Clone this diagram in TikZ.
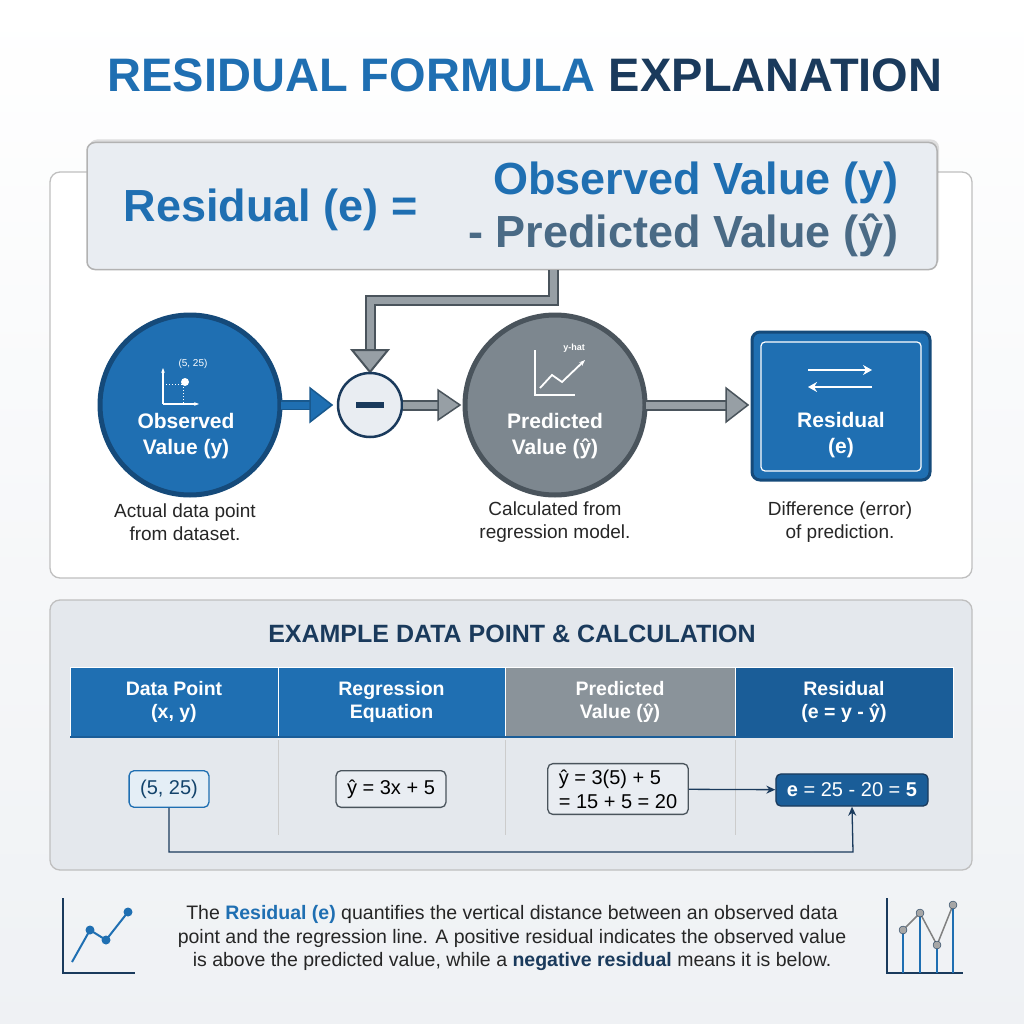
\documentclass[tikz,border=0pt]{standalone}
\usepackage{fontspec}
\setmainfont{Liberation Sans}
\usetikzlibrary{arrows.meta,shadows}
\definecolor{blu}{HTML}{1F6FB2}
\definecolor{navy}{HTML}{1A3A5C}
\definecolor{dblu}{HTML}{1A5D98}
\definecolor{gry}{HTML}{7D878F}
\definecolor{dgry}{HTML}{4A545C}
\definecolor{panel}{HTML}{E4E8ED}
\definecolor{fbox}{HTML}{E9EDF2}
\definecolor{pblu}{HTML}{4A6A85}
\newcommand{\fs}[1]{\fontsize{#1}{\dimexpr #1pt*6/5\relax}\selectfont}
\begin{document}
\begin{tikzpicture}[x=1pt,y=-1pt,
  captxt/.style={align=center,font=\fs{19},text=black!85},
  hdr/.style={minimum height=70,text=white,font=\bfseries\fs{19.5},align=center,inner sep=0,draw=white,line width=1},
  cell/.style={rounded corners=5,draw=dgry,line width=1.3,fill=fbox,font=\fs{20},align=center,inner xsep=11,inner ysep=9},
  fat/.style={line width=11,draw=dgry},
  fatin/.style={line width=7,draw=gry!80},
  conn/.style={draw=navy,line width=1.3,-{Stealth[length=9,width=8]}}]
\useasboundingbox (0,0) rectangle (1024,1024);
\fill[top color=white,bottom color=panel!60] (0,0) rectangle (1024,1024);
% title
\node[font=\bfseries\fs{47}] (title) at (525,75) {\textcolor{blu}{RESIDUAL FORMULA} \textcolor{navy}{EXPLANATION}};
% main panel
\node[draw=gray!50,line width=1.3,fill=white,rounded corners=10,minimum width=922,minimum height=406] (main) at (511,375) {};
\node[draw=gray!60,line width=1.5,fill=fbox,rounded corners=8,minimum width=850,minimum height=127,drop shadow={opacity=0.25,shadow xshift=2,shadow yshift=-3}] (formula) at (512,206) {};
\node[font=\bfseries\fs{45},text=blu,anchor=west] (lhs) at (120,210) {Residual (e) =};
\node[font=\bfseries\fs{45},text=blu,anchor=east] (obs) at (902,183) {Observed Value (y)};
\node[font=\bfseries\fs{45},text=pblu,anchor=east] (pred) at (902,235) {- Predicted Value (ŷ)};
% fat connector
\coordinate (c1) at (553,270);
\coordinate (c2) at (553,300);
\coordinate (c3) at (370,300);
\coordinate (c4) at (370,352);
\draw[fat] (c1)--(c2)--(c3)--(c4);
\draw[fatin] (c1)--(c2)--(c3)--(c4);
\fill[gry!80,draw=dgry,line width=2] (352,350)--(388,350)--(370,372)--cycle;
% observed circle
\node[circle,fill=blu,draw=dblu!80!black,line width=5,minimum size=180] (ov) at (190,405) {};
\node[font=\bfseries\fs{21},text=white,align=center] at (186,436) {Observed\\Value (y)};
\draw[white,line width=1.5,-{Stealth[length=5]}] (163,404)--(163,368);
\draw[white,line width=1.5,-{Stealth[length=5]}] (163,404)--(199,404);
\draw[white,dotted,line width=1] (163,384)--(183,384) (183,384)--(183,404);
\fill[white] (185,382) circle (4);
\node[white,font=\fs{10}] at (193,364) {(5, 25)};
% minus
\node[circle,fill=fbox,draw=navy,line width=2.5,minimum size=64] (minus) at (370,405) {};
\fill[navy] (356,402) rectangle (384,408);
% predicted circle
\node[circle,fill=gry,draw=dgry,line width=5,minimum size=180] (pv) at (555,405) {};
\node[font=\bfseries\fs{21},text=white,align=center] at (555,436) {Predicted\\Value (ŷ)};
\draw[white,line width=1.5] (535,350)--(535,395)--(575,395);
\draw[white,line width=1.8,-{Stealth[length=6]}] (540,388)--(552,375)--(562,382)--(585,360);
\node[white,font=\bfseries\fs{9}] at (574,348) {y-hat};
% residual box
\node[rounded corners=8,fill=blu,draw=dblu!80!black,line width=3,minimum width=178,minimum height=148] (rv) at (841,406) {};
\draw[white,line width=1.2,rounded corners=4] (761,342) rectangle (921,471);
\node[font=\bfseries\fs{21},text=white,align=center] at (841,435) {Residual\\(e)};
\draw[white,line width=2.5,-{Stealth[length=9,width=10]}] (808,370)--(872,370);
\draw[white,line width=2.5,-{Stealth[length=9,width=10]}] (872,387)--(808,387);
% arrows between
\draw[line width=10,draw=blu!80!black] (281,405)--(312,405);
\draw[line width=7,draw=blu] (281,405)--(312,405);
\fill[blu,draw=blu!80!black,line width=1.5] (310,388)--(332,405)--(310,422)--cycle;
\draw[fat] (403,405)--(440,405); \draw[fatin] (403,405)--(440,405);
\fill[gry!80,draw=dgry,line width=1.5] (438,390)--(460,405)--(438,420)--cycle;
\draw[fat] (646,405)--(728,405); \draw[fatin] (646,405)--(728,405);
\fill[gry!80,draw=dgry,line width=1.5] (726,388)--(748,405)--(726,422)--cycle;
% captions
\node[captxt] (cap1) at (185,522) {Actual data point\\from dataset.};
\node[captxt] (cap2) at (555,522) {Calculated from\\regression model.};
\node[captxt] (cap3) at (840,522) {Difference (error)\\of prediction.};
% example panel
\node[draw=gray!50,line width=1.3,fill=panel,rounded corners=10,minimum width=922,minimum height=270] (ex) at (511,735) {};
\node[font=\bfseries\fs{25},text=navy] (extitle) at (512,634) {EXAMPLE DATA POINT \& CALCULATION};
\node[hdr,fill=blu,minimum width=208] (h1) at (174,702) {Data Point\\(x, y)};
\node[hdr,fill=blu,minimum width=227] (h2) at (391.5,702) {Regression\\Equation};
\node[hdr,fill=gry!90,minimum width=230] (h3) at (620,702) {Predicted\\Value (ŷ)};
\node[hdr,fill=dblu,minimum width=218] (h4) at (844,702) {Residual\\(e = y - ŷ)};
\draw[dblu,line width=1.5] (70,737)--(953,737);
\draw[gray!40,line width=1] (278,740)--(278,835) (505,740)--(505,835) (735,740)--(735,835);
\node[cell,draw=blu,fill=blu!12,text=blu!60!black] (d1) at (169,789) {(5, 25)};
\node[cell] (d2) at (391,789) {ŷ = 3x + 5};
\node[cell,align=left,inner ysep=6] (d3) at (618,789) {ŷ = 3(5) + 5\\= 15 + 5 = 20};
\node[cell,fill=dblu,draw=navy,text=white] (d4) at (852,790) {\textbf{e} = 25 - 20 = \textbf{5}};
\draw[conn] (d3) -- (d4);
\draw[conn] (d1.south) |- (853,852) -- (d4.south);
% bottom text
\node[font=\fs{19.5},align=center,text=black!85] (note) at (512,938) {The \textcolor{blu}{\textbf{Residual (e)}} quantifies the vertical distance between an observed data\\point and the regression line. A positive residual indicates the observed value\\is above the predicted value, while a \textcolor{navy}{\textbf{negative residual}} means it is below.};
% left icon
\draw[navy,line width=2] (63,898)--(63,973)--(135,973);
\draw[blu,line width=2] (72,962)--(90,930)--(106,940)--(128,912);
\foreach \p in {(90,930),(106,940),(128,912)} \fill[blu] \p circle (4.5);
% right icon
\draw[navy,line width=2] (887,898)--(887,973)--(963,973);
\foreach \x/\h in {903/930,920/913,937/945,953/905} \draw[blu,line width=2.5] (\x,973)--(\x,\h);
\draw[gray,line width=1.5] (903,930)--(920,913)--(937,945)--(953,905);
\foreach \x/\h in {903/930,920/913,937/945,953/905} \fill[gray!70,draw=navy] (\x,\h) circle (4);
\end{tikzpicture}
\end{document}
